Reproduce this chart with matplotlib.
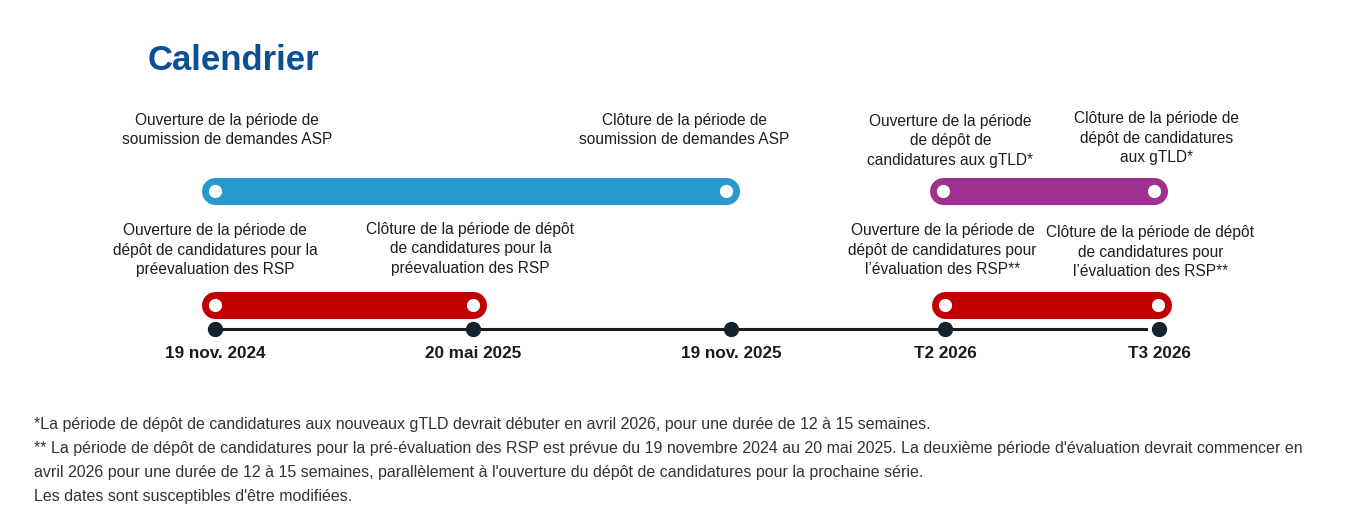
import matplotlib
matplotlib.use("Agg")
import matplotlib.pyplot as plt

plt.rcParams['font.family'] = ['Liberation Sans', 'DejaVu Sans']

# Timeline milestones (position in timeline units)
milestone_labels = ["19 nov. 2024", "20 mai 2025", "19 nov. 2025", "T2 2026", "T3 2026"]
milestone_pos = [0, 1, 2, 2.83, 3.66]

# Periods: start, end (timeline units)
asp_period = [0, 1.98]
gtld_period = [2.82, 3.64]
rsp_pre_period = [0, 1.0]
rsp_eval_period = [2.83, 3.655]

# Event labels: text lines and x position (timeline units)
event_texts = [
    ["Ouverture de la période de", "soumission de demandes ASP"],
    ["Clôture de la période de", "soumission de demandes ASP"],
    ["Ouverture de la période", "de dépôt de", "candidatures aux gTLD*"],
    ["Clôture de la période de", "dépôt de candidatures", "aux gTLD*"],
    ["Ouverture de la période de", "dépôt de candidatures pour la", "préevaluation des RSP"],
    ["Clôture de la période de dépôt", "de candidatures pour la", "préevaluation des RSP"],
    ["Ouverture de la période de", "dépôt de candidatures pour", "l’évaluation des RSP**"],
    ["Clôture de la période de dépôt", "de candidatures pour", "l’évaluation des RSP**"],
]
event_x = [0.047, 1.82, 2.85, 3.65, 0.0, 0.99, 2.82, 3.625]
event_y = [125, 125, 126, 123, 235, 234, 235, 237]

footnotes = [
    "*La période de dépôt de candidatures aux nouveaux gTLD devrait débuter en avril 2026, pour une durée de 12 à 15 semaines.",
    "** La période de dépôt de candidatures pour la pré-évaluation des RSP est prévue du 19 novembre 2024 au 20 mai 2025. "
    "La deuxième période d'évaluation devrait commencer en",
    "avril 2026 pour une durée de 12 à 15 semaines, parallèlement à l'ouverture du dépôt de candidatures pour la prochaine série.",
    "Les dates sont susceptibles d'être modifiées.",
]

BLUE = "#2899cf"
PURPLE = "#a0308f"
RED = "#c00000"
DARK = "#14232e"
TEXT = "#1e1e1e"

W, H = 1366, 511
fig = plt.figure(figsize=(W / 100, H / 100), dpi=100)
fig.patch.set_facecolor("white")
ax = fig.add_axes([0, 0, 1, 1])
# 1 timeline unit = 258 px, first milestone at x=215 px; y in pixels from top
ax.set_xlim(-215 / 258, (W - 215) / 258)
ax.set_ylim(H, 0)
ax.axis("off")

top_row, bottom_row, line_y = 191.5, 305.5, 329


def period_bar(period, y, color):
    ax.plot(period, [y, y], color=color, lw=19.5, solid_capstyle="round", zorder=2)
    ax.plot(period, [y, y], "o", ms=9.5, mfc="white", mec="none", zorder=3)


period_bar(asp_period, top_row, BLUE)
period_bar(gtld_period, top_row, PURPLE)
period_bar(rsp_pre_period, bottom_row, RED)
period_bar(rsp_eval_period, bottom_row, RED)

# main timeline
ax.plot([milestone_pos[0], milestone_pos[-1] - 0.05], [line_y, line_y], color="#1c1c1c", lw=2.2, zorder=1)
ax.plot(milestone_pos, [line_y] * len(milestone_pos), "o", ms=10, color=DARK, zorder=2)
for x, lab in zip(milestone_pos, milestone_labels):
    ax.text(x, 358, lab, ha="center", va="baseline", fontsize=12.3, fontweight="bold", color="#1a1a1a")

# event labels
for lines, x, y in zip(event_texts, event_x, event_y):
    for i, line in enumerate(lines):
        ax.text(x, y + i * 19.5, line, ha="center", va="baseline", fontsize=11.2, color=TEXT)

fig.text(148 / W, 1 - 70 / H, "Calendrier", fontsize=25, fontweight="bold", color="#0b4f96", va="baseline")

for i, note in enumerate(footnotes):
    fig.text(34 / W, 1 - (429 + i * 24) / H, note, fontsize=11.5, color="#333333", va="baseline")

fig.savefig("out.png", dpi=100, facecolor="white")
